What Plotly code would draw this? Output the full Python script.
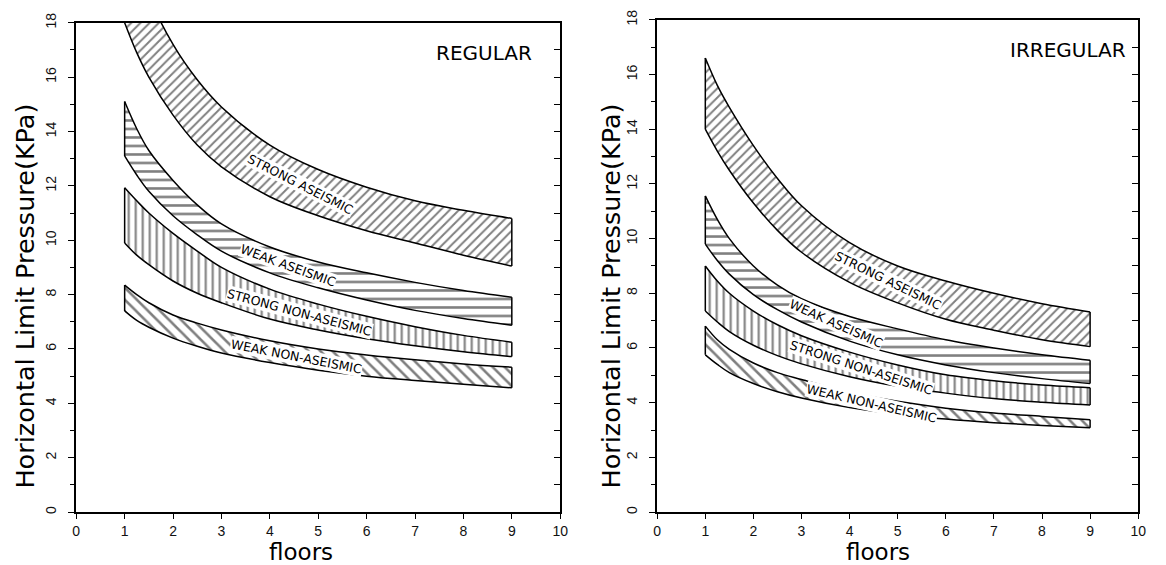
import plotly.graph_objects as go
import numpy as np

# ---------------- data ----------------
floors = [1, 1.25, 1.5, 2, 2.5, 3, 4, 5, 6, 7, 8, 9]

# REGULAR panel (upper / lower bound of each band, KPa)
reg_sa_up = [22.5, 20.5, 19.0, 17.2, 15.9, 14.9, 13.5, 12.6, 11.95, 11.45, 11.1, 10.8]
reg_sa_lo = [18.0, 16.9, 16.0, 14.6, 13.5, 12.7, 11.6, 10.9, 10.35, 9.9, 9.45, 9.05]
reg_wa_up = [15.1, 14.1, 13.3, 12.2, 11.3, 10.6, 9.75, 9.2, 8.8, 8.45, 8.15, 7.9]
reg_wa_lo = [13.1, 12.4, 11.8, 10.9, 10.2, 9.6, 8.8, 8.25, 7.8, 7.42, 7.12, 6.87]
reg_sna_up = [11.93, 11.45, 11.0, 10.25, 9.6, 9.0, 8.2, 7.65, 7.2, 6.82, 6.5, 6.25]
reg_sna_lo = [9.9, 9.45, 9.1, 8.5, 8.05, 7.7, 7.1, 6.7, 6.38, 6.12, 5.9, 5.72]
reg_wna_up = [8.35, 8.0, 7.7, 7.25, 6.95, 6.7, 6.3, 6.0, 5.78, 5.6, 5.45, 5.33]
reg_wna_lo = [7.4, 7.05, 6.8, 6.4, 6.1, 5.85, 5.5, 5.22, 5.0, 4.84, 4.7, 4.57]

# IRREGULAR panel
irr_sa_up = [16.6, 15.6, 14.8, 13.4, 12.2, 11.2, 9.85, 9.0, 8.45, 8.0, 7.62, 7.32]
irr_sa_lo = [14.0, 13.2, 12.5, 11.3, 10.3, 9.5, 8.4, 7.65, 7.05, 6.65, 6.3, 6.05]
irr_wa_up = [11.56, 10.7, 10.0, 9.0, 8.3, 7.8, 7.15, 6.7, 6.3, 6.0, 5.75, 5.55]
irr_wa_lo = [9.8, 9.2, 8.7, 7.95, 7.4, 6.95, 6.25, 5.75, 5.38, 5.1, 4.88, 4.7]
irr_sna_up = [9.0, 8.45, 8.0, 7.35, 6.85, 6.45, 5.85, 5.38, 5.02, 4.8, 4.65, 4.55]
irr_sna_lo = [7.35, 6.95, 6.6, 6.1, 5.72, 5.42, 4.95, 4.6, 4.35, 4.15, 4.02, 3.92]
irr_wna_up = [6.8, 6.3, 5.95, 5.45, 5.1, 4.85, 4.38, 4.05, 3.8, 3.62, 3.5, 3.38]
irr_wna_lo = [5.75, 5.4, 5.1, 4.7, 4.4, 4.17, 3.82, 3.57, 3.4, 3.27, 3.17, 3.08]

band_names = ["STRONG ASEISMIC", "WEAK ASEISMIC", "STRONG NON-ASEISMIC", "WEAK NON-ASEISMIC"]
panel_titles = ["REGULAR", "IRREGULAR"]
x_ticks = list(range(0, 11))
y_ticks = list(range(0, 19, 2))
x_title = "floors"
y_title = "Horizontal Limit Pressure(KPa)"

# ---------------- styling ----------------
patterns = [("/", 6.5), ("-", 8.5), ("|", 7), ("\\", 8.5)]
label_floor_reg = [4.64, 4.38, 4.62, 4.55]
label_angle_reg = [27, 20, 15, 11]
label_floor_irr = [4.8, 3.72, 4.24, 4.46]
label_angle_irr = [26, 24, 18, 13]

W, H = 1166, 565


def px(sx):
    return sx / W


def py(sy):
    return 1 - sy / H


fig = go.Figure()
LW = 1.5
annotations = []


def add_panel(bands, xa, ya, ya_right, lfloors, langles):
    for (up, lo), (shp, sz) in zip(bands, patterns):
        fig.add_trace(go.Scatter(x=floors, y=lo, mode="lines", xaxis=xa, yaxis=ya,
                                 line=dict(color="black", width=LW, shape="spline", smoothing=1.0),
                                 showlegend=False, hoverinfo="skip"))
        fig.add_trace(go.Scatter(x=floors, y=up, mode="lines", xaxis=xa, yaxis=ya,
                                 line=dict(color="black", width=LW, shape="spline", smoothing=1.0),
                                 fill="tonexty", fillcolor="white",
                                 fillpattern=dict(shape=shp, fgcolor="black", bgcolor="white",
                                                  size=sz, solidity=0.3),
                                 showlegend=False, hoverinfo="skip"))
    for up, lo in bands:
        fig.add_trace(go.Scatter(x=[floors[0], floors[0], None, floors[-1], floors[-1]],
                                 y=[lo[0], up[0], None, lo[-1], up[-1]],
                                 mode="lines", xaxis=xa, yaxis=ya,
                                 line=dict(color="black", width=LW),
                                 showlegend=False, hoverinfo="skip"))
    # invisible helper so the right-hand (inward tick) axis is drawn
    fig.add_trace(go.Scatter(x=floors, y=bands[0][1], mode="lines", xaxis=xa, yaxis=ya_right,
                             line=dict(width=0, color="rgba(0,0,0,0)"),
                             showlegend=False, hoverinfo="skip"))
    for (up, lo), name, lf, ang in zip(bands, band_names, lfloors, langles):
        yc = (np.interp(lf, floors, up) + np.interp(lf, floors, lo)) / 2
        annotations.append(dict(x=lf, y=yc, xref=xa, yref=ya, text=name, showarrow=False,
                                textangle=ang, bgcolor="white", borderpad=0,
                                xanchor="center", yanchor="middle",
                                font=dict(family="DejaVu Sans", size=12.5, color="black")))


add_panel([(reg_sa_up, reg_sa_lo), (reg_wa_up, reg_wa_lo), (reg_sna_up, reg_sna_lo), (reg_wna_up, reg_wna_lo)],
          "x", "y", "y3", label_floor_reg, label_angle_reg)
add_panel([(irr_sa_up, irr_sa_lo), (irr_wa_up, irr_wa_lo), (irr_sna_up, irr_sna_lo), (irr_wna_up, irr_wna_lo)],
          "x2", "y2", "y4", label_floor_irr, label_angle_irr)

dom_x1 = [px(73), px(562)]
dom_x2 = [px(660), px(1146)]
dom_y1 = [py(513), py(13)]
dom_y2 = [py(513), py(10)]

tickfont = dict(family="Liberation Sans", size=14, color="#111")


def xaxis(dom, anchor):
    return dict(domain=dom, anchor=anchor, range=[0, 10], tickvals=x_ticks, ticks="outside",
                ticklen=5, tickwidth=1.3, tickcolor="black", showline=True, linecolor="black",
                linewidth=1.5, mirror=True, showgrid=False, zeroline=False, tickfont=tickfont,
                ticklabelstandoff=0, fixedrange=True)


def yaxis(dom, anchor):
    return dict(domain=dom, anchor=anchor, range=[0, 18], tickvals=y_ticks, ticks="outside",
                ticklen=6, tickwidth=1.3, tickcolor="black", showline=True, linecolor="black",
                linewidth=1.5, mirror=True, showgrid=False, zeroline=False, tickfont=tickfont,
                tickangle=-90, ticklabelstandoff=7, ticklabeloverflow="allow",
                minor=dict(ticks="outside", dtick=1, ticklen=4, tickwidth=1.2, tickcolor="black"),
                fixedrange=True)


def yright(dom, anchor, over):
    return dict(domain=dom, anchor=anchor, overlaying=over, side="right", range=[0, 18],
                dtick=1, tick0=0, ticks="inside", ticklen=6, tickwidth=1.2, tickcolor="black",
                showticklabels=False, showline=False, showgrid=False, zeroline=False,
                fixedrange=True)


for ptitle, xr, yr, xc in [(panel_titles[0], "x", "y", 8.42), (panel_titles[1], "x2", "y2", 8.55)]:
    annotations.append(dict(x=xc, y=16.9, xref=xr, yref=yr, text=ptitle, showarrow=False,
                            xanchor="center", yanchor="middle",
                            font=dict(family="DejaVu Sans", size=20, color="black")))

for sx in [300, 883]:
    annotations.append(dict(x=px(sx), y=py(554), xref="paper", yref="paper", text=x_title,
                            showarrow=False, xanchor="center", yanchor="middle",
                            font=dict(family="DejaVu Sans", size=23, color="black")))
for sx in [21, 613]:
    annotations.append(dict(x=px(sx), y=py(292), xref="paper", yref="paper", text=y_title,
                            showarrow=False, textangle=-90, xanchor="center", yanchor="middle",
                            font=dict(family="DejaVu Sans", size=25.5, color="black")))

fig.update_layout(
    width=W, height=H, autosize=False,
    margin=dict(l=0, r=0, t=0, b=0),
    paper_bgcolor="white", plot_bgcolor="white",
    xaxis=xaxis(dom_x1, "y"), yaxis=yaxis(dom_y1, "x"),
    xaxis2=xaxis(dom_x2, "y2"), yaxis2=yaxis(dom_y2, "x2"),
    yaxis3=yright(dom_y1, "x", "y"), yaxis4=yright(dom_y2, "x2", "y2"),
    annotations=annotations,
)

# remove the default 8px page margin so the figure fills the window exactly
fig.write_html("out.html", config={"displayModeBar": False},
               post_script="document.body.style.margin='0';document.body.style.overflow='hidden';")
